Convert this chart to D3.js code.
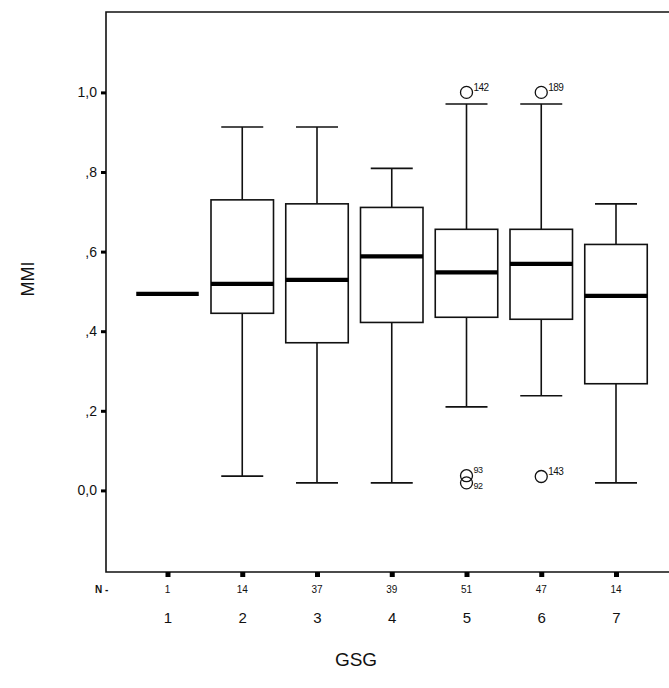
<!DOCTYPE html>
<html><head><meta charset="utf-8">
<script src="https://cdn.jsdelivr.net/npm/d3@7"></script>
<style>body{margin:0;background:#fff}svg{display:block}text{font-family:"Liberation Sans",Arial,sans-serif;fill:#111}</style>
</head><body><svg id="c" width="669" height="688"></svg>
<script>
const groups = ["1","2","3","4","5","6","7"];
const nCounts = [1,14,37,39,51,47,14];
const whiskerLow = [null,0.036,0.019,0.019,0.21,0.238,0.019];
const q1 = [null,0.445,0.371,0.422,0.435,0.430,0.268];
const median = [0.494,0.519,0.529,0.588,0.548,0.569,0.489];
const q3 = [null,0.730,0.720,0.711,0.656,0.656,0.618];
const whiskerHigh = [null,0.913,0.913,0.809,0.971,0.971,0.720];
const outlierGroup = ["5","6","5","5","6"];
const outlierValue = [1.0,1.0,0.037,0.019,0.035];
const outlierLabel = ["142","189","93","92","143"];
const yTicks = [0,0.2,0.4,0.6,0.8,1.0];
const yTickLabels = ["0,0",",2",",4",",6",",8","1,0"];

const svg = d3.select("#c");
const L = 106, T = 12, R = 678, B = 572;
const x = d3.scalePoint().domain(groups).range([167.5, 616]);
const y = d3.scaleLinear().domain([-0.205, 1.202]).range([B, T]);
const boxW = 62.5, capW = 42;

// frame
svg.append("path").attr("d", `M${R},${T}H${L}V${B}H${R}`)
  .attr("fill","none").attr("stroke","#111").attr("stroke-width",1.6);

// y axis ticks
const yAxis = d3.axisLeft(y).tickValues(yTicks).tickSize(0).tickPadding(9)
  .tickFormat((d,i)=>yTickLabels[i]);
const ga = svg.append("g").attr("transform",`translate(${L},0)`).call(yAxis);
ga.select(".domain").remove();
ga.selectAll("text").attr("font-size",14).attr("font-family","Liberation Sans, Arial, sans-serif").attr("fill","#111");
ga.selectAll(".tick").append("rect").attr("x",-5).attr("y",-1.5).attr("width",5).attr("height",3).attr("fill","#000");

// x axis
const xAxis = d3.axisBottom(x).tickSize(0).tickPadding(40);
const gx = svg.append("g").attr("transform",`translate(0,${B})`).call(xAxis);
gx.select(".domain").remove();
gx.selectAll("text").attr("font-size",15).attr("font-family","Liberation Sans, Arial, sans-serif").attr("fill","#111");
gx.selectAll(".tick").append("rect").attr("x",-2.5).attr("y",0).attr("width",5).attr("height",5).attr("fill","#000");

// N labels
svg.append("text").attr("x",95).attr("y",593).attr("font-size",10).attr("font-weight","bold").text("N -");
svg.selectAll(".n").data(groups).enter().append("text")
  .attr("x",d=>x(d)).attr("y",593).attr("text-anchor","middle")
  .attr("font-size",10).text((d,i)=>nCounts[i]);

// axis titles
svg.append("text").attr("transform","translate(34,279) rotate(-90)")
  .attr("text-anchor","middle").attr("font-size",18).text("MMI");
svg.append("text").attr("x",356).attr("y",666).attr("text-anchor","middle")
  .attr("font-size",19).text("GSG");

// boxes
const g = svg.append("g").attr("stroke","#111").attr("fill","none");
groups.forEach((d,i)=>{
  const cx = x(d);
  if (q1[i] !== null) {
    g.append("line").attr("x1",cx).attr("x2",cx).attr("y1",y(whiskerHigh[i])).attr("y2",y(q3[i])).attr("stroke-width",1.6);
    g.append("line").attr("x1",cx).attr("x2",cx).attr("y1",y(q1[i])).attr("y2",y(whiskerLow[i])).attr("stroke-width",1.6);
    g.append("line").attr("x1",cx-capW/2).attr("x2",cx+capW/2).attr("y1",y(whiskerHigh[i])).attr("y2",y(whiskerHigh[i])).attr("stroke-width",1.6);
    g.append("line").attr("x1",cx-capW/2).attr("x2",cx+capW/2).attr("y1",y(whiskerLow[i])).attr("y2",y(whiskerLow[i])).attr("stroke-width",1.6);
    g.append("rect").attr("x",cx-boxW/2).attr("width",boxW).attr("y",y(q3[i])).attr("height",y(q1[i])-y(q3[i])).attr("stroke-width",1.6).attr("fill","#fff");
  }
  g.append("line").attr("x1",cx-boxW/2).attr("x2",cx+boxW/2).attr("y1",y(median[i])).attr("y2",y(median[i])).attr("stroke-width",4.2).attr("stroke","#000");
});

// outliers
outlierGroup.forEach((d,i)=>{
  const cx = x(d), cy = y(outlierValue[i]);
  svg.append("circle").attr("cx",cx).attr("cy",cy).attr("r",6).attr("fill","none").attr("stroke","#111").attr("stroke-width",1.3);
});
outlierGroup.forEach((d,i)=>{
  const cx = x(d), cy = y(outlierValue[i]);
  const dy = outlierLabel[i] === "93" ? -3 : (outlierLabel[i] === "92" ? 6 : -1);
  svg.append("text").attr("x",cx+7).attr("y",cy+dy).attr("font-size",outlierLabel[i].length===2?9:10)
    .attr("letter-spacing",-0.5).text(outlierLabel[i]);
});
</script></body></html>
